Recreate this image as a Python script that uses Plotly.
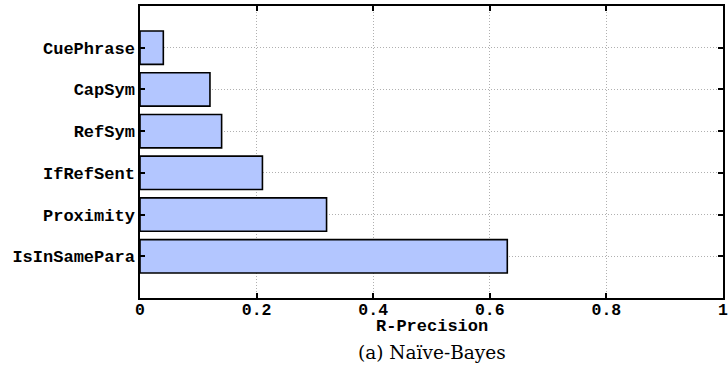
import plotly.graph_objects as go

categories = ["CuePhrase", "CapSym", "RefSym", "IfRefSent", "Proximity", "IsInSamePara"]
values = [0.04, 0.12, 0.14, 0.21, 0.32, 0.63]
x_ticks = [0, 0.2, 0.4, 0.6, 0.8, 1]
x_ticklabels = ["0", "0.2", "0.4", "0.6", "0.8", "1"]
x_title = "R-Precision"
caption = "(a) Naïve-Bayes"

mono = dict(family="Liberation Mono", size=16.5, color="black", weight="bold")

fig = go.Figure(go.Bar(
    x=values, y=categories, orientation="h", width=0.8,
    marker=dict(color="#b3c6ff", line=dict(color="black", width=1.6)),
))

fig.update_layout(
    width=728, height=369,
    margin=dict(l=140, r=0, t=6, b=71),
    plot_bgcolor="white", paper_bgcolor="white",
    showlegend=False,
    xaxis=dict(
        range=[0, 1], tickvals=x_ticks, ticktext=x_ticklabels,
        showline=True, linecolor="black", linewidth=1.5, mirror="allticks",
        ticks="inside", ticklen=5, tickwidth=1.5, tickcolor="black",
        showgrid=True, gridcolor="#b0b0b0", griddash="1px,2px", gridwidth=1,
        zeroline=False, tickfont=mono, ticklabeloverflow="allow",
        ticklabelstandoff=-5,
    ),
    yaxis=dict(
        categoryorder="array", categoryarray=categories[::-1],
        range=[-1, 6],
        showline=True, linecolor="black", linewidth=1.5, mirror="allticks",
        ticks="inside", ticklen=5, tickwidth=1.5, tickcolor="black",
        showgrid=True, gridcolor="#b0b0b0", griddash="1px,2px", gridwidth=1,
        zeroline=False, tickfont=dict(family="Liberation Mono", size=17, color="black", weight="bold"),
        ticklabelstandoff=0,
    ),
    annotations=[
        dict(text=x_title, xref="paper", yref="paper", x=0.5, y=-0.097,
             xanchor="center", yanchor="middle", showarrow=False,
             font=dict(family="Liberation Mono", size=17, color="black", weight="bold")),
        dict(text=caption, xref="paper", yref="paper", x=0.5, y=-0.187,
             xanchor="center", yanchor="middle", showarrow=False,
             font=dict(family="DejaVu Serif", size=18.5, color="black")),
    ],
)

fig.write_html("out.html")
